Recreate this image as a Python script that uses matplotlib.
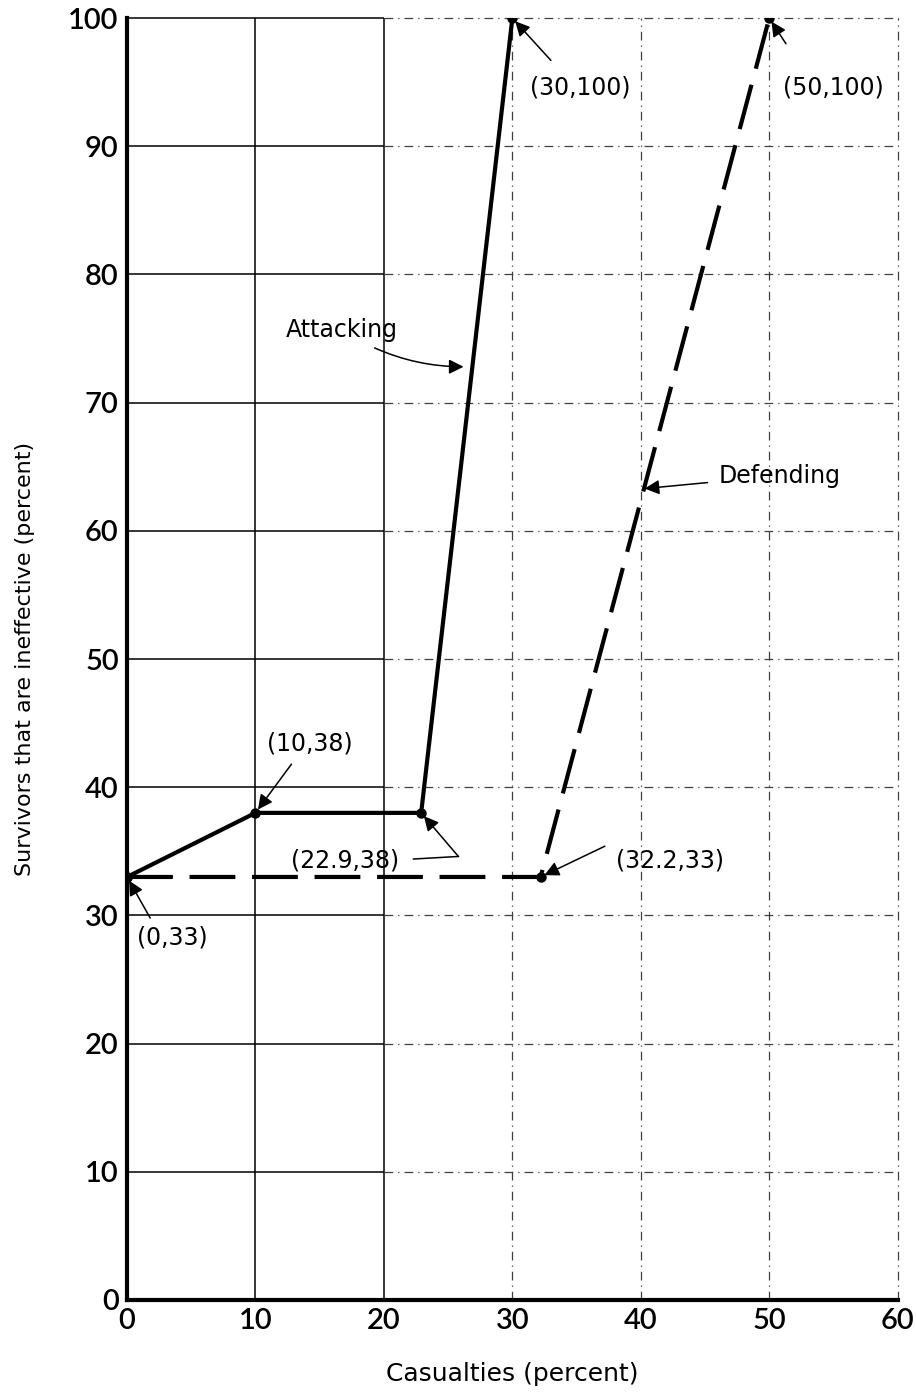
"""
Casualties versus ineffective survivors, attacking and defending.
"""

import matplotlib
matplotlib.use("Agg")
import matplotlib.pyplot as plt

plt.rcParams['font.family'] = ['DejaVu Sans']

x_ticks = [0, 10, 20, 30, 40, 50, 60]
y_ticks = [0, 10, 20, 30, 40, 50, 60, 70, 80, 90, 100]
x_tick_labels = ["0", "10", "20", "30", "40", "50", "60"]

attack_x = [0, 10, 22.9, 30]
attack_y = [33, 38, 38, 100]
defend_x = [0, 32.2, 50]
defend_y = [33, 33, 100]

point_labels = ["(0,33)", "(10,38)", "(22.9,38)", "(30,100)", "(32.2,33)", "(50,100)"]
point_x = [0, 10, 22.9, 30, 32.2, 50]
point_y = [33, 38, 38, 100, 33, 100]

fig = plt.figure(figsize=(9.16, 13.92), dpi=100)
ax = fig.add_axes([0.1387, 0.0661, 0.8413, 0.9209])
ax.set_xlim(0, 60)
ax.set_ylim(0, 100)

# graph paper grid: solid near the left, broken further right
for xv in x_ticks[1:]:
    if xv <= 20:
        ax.vlines(xv, 0, 100, color='black', lw=1.1, clip_on=False)
    else:
        ax.vlines(xv, 0, 100, color='0.25', lw=0.9, linestyles=(0, (7, 4, 1, 4)),
                  clip_on=False)
for yv in y_ticks[1:]:
    ax.hlines(yv, 0, 20, color='black', lw=1.1, clip_on=False)
    ax.hlines(yv, 20, 60, color='0.25', lw=0.9, linestyles=(0, (7, 4, 1, 4)),
              clip_on=False)

for side in ['top', 'right']:
    ax.spines[side].set_visible(False)
ax.spines['left'].set_linewidth(3)
ax.spines['bottom'].set_linewidth(3)

ax.set_xticks(x_ticks)
ax.set_xticklabels(x_tick_labels)
ax.set_yticks(y_ticks)
ax.tick_params(length=0, labelsize=21, pad=6)
for lab in ax.get_xticklabels() + ax.get_yticklabels():
    lab.set_family(['Lato', 'DejaVu Sans'])
    lab.set_fontweight('semibold')
ax.set_xlabel("Casualties (percent)", fontsize=18, labelpad=20)
ax.set_ylabel("Survivors that are ineffective (percent)", fontsize=16, labelpad=24)

# the two curves
ax.plot(attack_x, attack_y, color='black', lw=3, marker='o', ms=6.5,
        solid_capstyle='round', zorder=5)
ax.plot(defend_x, defend_y, color='black', lw=3, dashes=(11, 4), marker='o', ms=6.5,
        zorder=5)

arrow = dict(arrowstyle='-|>', color='black', lw=1.1, mutation_scale=22,
             shrinkA=0, shrinkB=3)
txt = dict(fontsize=17, ha='center', va='center')

# point labels, with arrows
text_pos = {
    "(0,33)": (3.5, 28.3),
    "(10,38)": (14.2, 43.4),
    "(22.9,38)": (17.0, 34.3),
    "(30,100)": (35.3, 94.6),
    "(32.2,33)": (42.3, 34.3),
    "(50,100)": (55.0, 94.6),
}
tail_pos = {
    "(0,33)": (1.8, 29.8),
    "(10,38)": (12.8, 41.8),
    "(30,100)": (33.0, 96.7),
    "(32.2,33)": (37.2, 35.4),
    "(50,100)": (51.3, 98.0),
}
for lab, px, py in zip(point_labels, point_x, point_y):
    ax.text(*text_pos[lab], lab, **txt)
    if lab == "(22.9,38)":
        # bent leader line
        ax.plot([22.3, 25.8], [34.4, 34.6], color='black', lw=1.1)
        ax.annotate("", xy=(px, py), xytext=(25.8, 34.6), arrowprops=arrow)
    else:
        ax.annotate("", xy=(px, py), xytext=tail_pos[lab], arrowprops=arrow)

# series labels
ax.annotate("Attacking", xy=(26.2, 72.8), xytext=(16.7, 75.7), fontsize=17,
            ha='center', va='center',
            arrowprops=dict(arrowstyle='-|>', color='black', lw=1.1, mutation_scale=22,
                            shrinkA=6, shrinkB=0, connectionstyle='arc3,rad=0.15'))
ax.annotate("Defending", xy=(40.3, 63.3), xytext=(50.8, 64.3), fontsize=17,
            ha='center', va='center',
            arrowprops=dict(arrowstyle='-|>', color='black', lw=1.1, mutation_scale=22,
                            shrinkA=6, shrinkB=0))

plt.savefig("out.png", dpi=100)
